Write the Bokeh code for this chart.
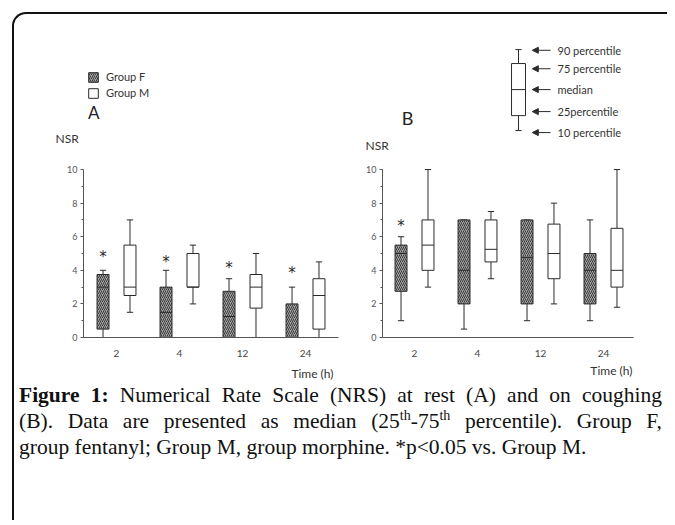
from bokeh.plotting import figure
from bokeh.models import (Range1d, FixedTicker, Legend, LegendItem, Label, Arrow,
                          NormalHead, Div, ColumnDataSource)
from bokeh.layouts import row, column
from bokeh.core.properties import value
from bokeh.embed import file_html
from bokeh.resources import INLINE

# ---------------- data ----------------
times = ["2", "4", "12", "24"]
groups = [1, 2, 3, 4]

# Panel A (at rest)
A_F_p10 = [0, 0, 0, 0]
A_F_p25 = [0.5, 0, 0, 0]
A_F_med = [3, 1.5, 1.25, 0]
A_F_p75 = [3.75, 3, 2.75, 2]
A_F_p90 = [4, 4, 3.5, 3]
A_M_p10 = [1.5, 2, 0, 0]
A_M_p25 = [2.5, 3, 1.75, 0.5]
A_M_med = [3, 3, 3, 2.5]
A_M_p75 = [5.5, 5, 3.75, 3.5]
A_M_p90 = [7, 5.5, 5, 4.5]
A_star_idx = [0, 1, 2, 3]
A_star_y = [5.0, 4.7, 4.3, 4.0]

# Panel B (on coughing)
B_F_p10 = [1, 0.5, 1, 1]
B_F_p25 = [2.75, 2, 2, 2]
B_F_med = [5, 4, 4.75, 4]
B_F_p75 = [5.5, 7, 7, 5]
B_F_p90 = [6, 7, 7, 7]
B_M_p10 = [3, 3.5, 2, 1.8]
B_M_p25 = [4, 4.5, 3.5, 3]
B_M_med = [5.5, 5.25, 5, 4]
B_M_p75 = [7, 7, 6.75, 6.5]
B_M_p90 = [10, 7.5, 8, 10]
B_star_idx = [0]
B_star_y = [6.8]

# key diagram (percentile explanation), levels in panel-B data units
key_labels = ["10 percentile", "25percentile", "median", "75 percentile", "90 percentile"]
key_levels = [12.32, 13.21, 14.76, 16.31, 17.14]
key_arrow_y = [12.2, 13.45, 14.76, 16.0, 17.1]

# ---------------- style ----------------
FONT = "Lato"
DARK = "#2b2b2b"
GREY = "#555555"
OFF = 0.214
BW = 0.19
CAP = 0.10
Y_RANGE = (-2.679, 19.23)


def make_fig(xr, width, axis_x, xbounds):
    p = figure(x_range=Range1d(*xr), y_range=Range1d(*Y_RANGE), width=width, height=368,
               min_border=0, min_border_left=0, min_border_right=0, min_border_top=0,
               min_border_bottom=0, output_backend="svg", toolbar_location=None)
    p.outline_line_color = None
    p.xgrid.visible = False
    p.ygrid.visible = False
    p.background_fill_color = None
    p.border_fill_color = None
    ya = p.yaxis[0]
    ya.fixed_location = axis_x
    ya.ticker = FixedTicker(ticks=[0, 2, 4, 6, 8, 10], minor_ticks=[1, 3, 5, 7, 9])
    ya.bounds = (0, 10)
    ya.major_tick_out = 3
    ya.major_tick_in = 0
    ya.minor_tick_out = 2
    ya.minor_tick_in = 0
    ya.axis_line_color = GREY
    ya.major_tick_line_color = GREY
    ya.minor_tick_line_color = GREY
    ya.major_label_text_font = FONT
    ya.major_label_text_font_size = "9px"
    ya.major_label_text_color = GREY
    ya.major_label_standoff = 3
    xa = p.xaxis[0]
    xa.fixed_location = 0
    xa.bounds = xbounds
    xa.ticker = FixedTicker(ticks=groups)
    xa.major_label_overrides = {g: t for g, t in zip(groups, times)}
    xa.major_tick_out = 0
    xa.major_tick_in = 0
    xa.minor_tick_out = 0
    xa.axis_line_color = GREY
    xa.major_label_text_font = FONT
    xa.major_label_text_font_size = "10px"
    xa.major_label_text_color = "#444444"
    xa.major_label_standoff = 12
    return p


def draw_boxes(p, xs, p10, p25, med, p75, p90, hatched):
    src = ColumnDataSource(dict(x=xs, p10=p10, p25=p25, med=med, p75=p75, p90=p90,
                                l=[x - BW / 2 for x in xs], r=[x + BW / 2 for x in xs],
                                cl=[x - CAP / 2 for x in xs], cr=[x + CAP / 2 for x in xs]))
    p.segment(x0="x", x1="x", y0="p75", y1="p90", source=src, line_color=DARK, line_width=1)
    p.segment(x0="x", x1="x", y0="p10", y1="p25", source=src, line_color=DARK, line_width=1)
    p.segment(x0="cl", x1="cr", y0="p90", y1="p90", source=src, line_color=DARK, line_width=1)
    p.segment(x0="cl", x1="cr", y0="p10", y1="p10", source=src, line_color=DARK, line_width=1)
    if hatched:
        r = p.vbar(x="x", width=BW, top="p75", bottom="p25", source=src,
                   fill_color="#a4a4a4", hatch_pattern="/", hatch_color="#3a3a3a",
                   hatch_scale=4, hatch_weight=1, line_color=DARK, line_width=1)
    else:
        r = p.vbar(x="x", width=BW, top="p75", bottom="p25", source=src,
                   fill_color="white", line_color=DARK, line_width=1)
    p.segment(x0="l", x1="r", y0="med", y1="med", source=src, line_color=DARK, line_width=1)
    return r


def stars(p, idx, ys):
    p.text(x=[groups[i] - OFF for i in idx], y=ys, text=["*"] * len(ys),
           text_font=value("DejaVu Sans"), text_font_size="15px", text_color=DARK,
           text_align="center", text_baseline="middle", y_offset=3)


def label(p, x, y, t, size, align="left", color="#333333"):
    p.add_layout(Label(x=x, y=y, text=t, text_font=FONT, text_font_size=size,
                       text_color=color, text_align=align, text_baseline="middle"))


# ---------------- panel A ----------------
pA = make_fig((-0.619, 4.714), 336, 0.476, (0.476, 4.524))
xF = [g - OFF for g in groups]
xM = [g + OFF for g in groups]
rF = draw_boxes(pA, xF, A_F_p10, A_F_p25, A_F_med, A_F_p75, A_F_p90, True)
rM = draw_boxes(pA, xM, A_M_p10, A_M_p25, A_M_med, A_M_p75, A_M_p90, False)
stars(pA, A_star_idx, A_star_y)
leg = Legend(items=[LegendItem(label="Group F", renderers=[rF]),
                    LegendItem(label="Group M", renderers=[rM])],
             location=(73, 283), orientation="vertical", glyph_width=12, glyph_height=12,
             label_height=12, spacing=3, padding=0, margin=0, label_standoff=7,
             border_line_color=None, background_fill_alpha=0,
             label_text_font=FONT, label_text_font_size="11px", label_text_color="#333333",
             label_text_baseline="middle")
pA.add_layout(leg)
label(pA, 0.64, 13.39, "A", "17px", "center", "#222222")
label(pA, 0.032, 11.85, "NSR", "12px")
label(pA, 4.444, -2.14, "Time (h)", "12px", "right")

# ---------------- panel B ----------------
pB = make_fig((-0.016, 5.016), 317, 0.492, (0.492, 4.476))
draw_boxes(pB, xF, B_F_p10, B_F_p25, B_F_med, B_F_p75, B_F_p90, True)
draw_boxes(pB, xM, B_M_p10, B_M_p25, B_M_med, B_M_p75, B_M_p90, False)
stars(pB, B_star_idx, B_star_y)
label(pB, 0.889, 13.04, "B", "18px", "center", "#222222")
label(pB, 0.222, 11.43, "NSR", "12px")
label(pB, 4.46, -1.96, "Time (h)", "12px", "right")

# key diagram
KX = 2.651
pB.segment(x0=[KX, KX], x1=[KX, KX], y0=[key_levels[0], key_levels[3]],
           y1=[key_levels[1], key_levels[4]], line_color=DARK)
pB.segment(x0=[KX - CAP / 2] * 2, x1=[KX + CAP / 2] * 2, y0=[key_levels[0], key_levels[4]],
           y1=[key_levels[0], key_levels[4]], line_color=DARK)
pB.vbar(x=[KX], width=0.222, top=[key_levels[3]], bottom=[key_levels[1]],
        fill_color="white", line_color=DARK)
pB.segment(x0=[KX - 0.111], x1=[KX + 0.111], y0=[key_levels[2]], y1=[key_levels[2]],
           line_color=DARK)
for ay, t in zip(key_arrow_y, key_labels):
    pB.add_layout(Arrow(x_start=3.16, x_end=2.87, y_start=ay, y_end=ay,
                        line_color=DARK, line_width=1,
                        end=NormalHead(size=6, fill_color=DARK, line_color=DARK)))
    label(pB, 3.27, ay, t, "11px")

# ---------------- caption ----------------
cap_html = (
    '<div style="font-family:\'Liberation Serif\',serif;font-size:21.5px;line-height:26px;'
    'color:#111;width:643px;margin-left:5px;margin-top:0px;">'
    '<div style="text-align:justify;text-align-last:justify;white-space:nowrap;">'
    '<b>Figure 1:</b> Numerical Rate Scale (NRS) at rest (A) and on coughing</div>'
    '<div style="text-align:justify;text-align-last:justify;">'
    '(B). Data are presented as median (25<sup style="font-size:14px;line-height:0;">th</sup>-75'
    '<sup style="font-size:14px;line-height:0;">th</sup> percentile). Group F,</div>'
    '<div>group fentanyl; Group M, group morphine. *p&lt;0.05 vs. Group M.</div>'
    '</div>'
)
cap = Div(text=cap_html, width=653, height=138, margin=0)

layout = column(row(pA, pB), cap, margin=(12, 0, 0, 12),
                styles={"border-left": "2px solid #111", "border-top": "2px solid #111",
                        "border-top-left-radius": "14px"})

open("out.html", "w").write(file_html(layout, INLINE))
